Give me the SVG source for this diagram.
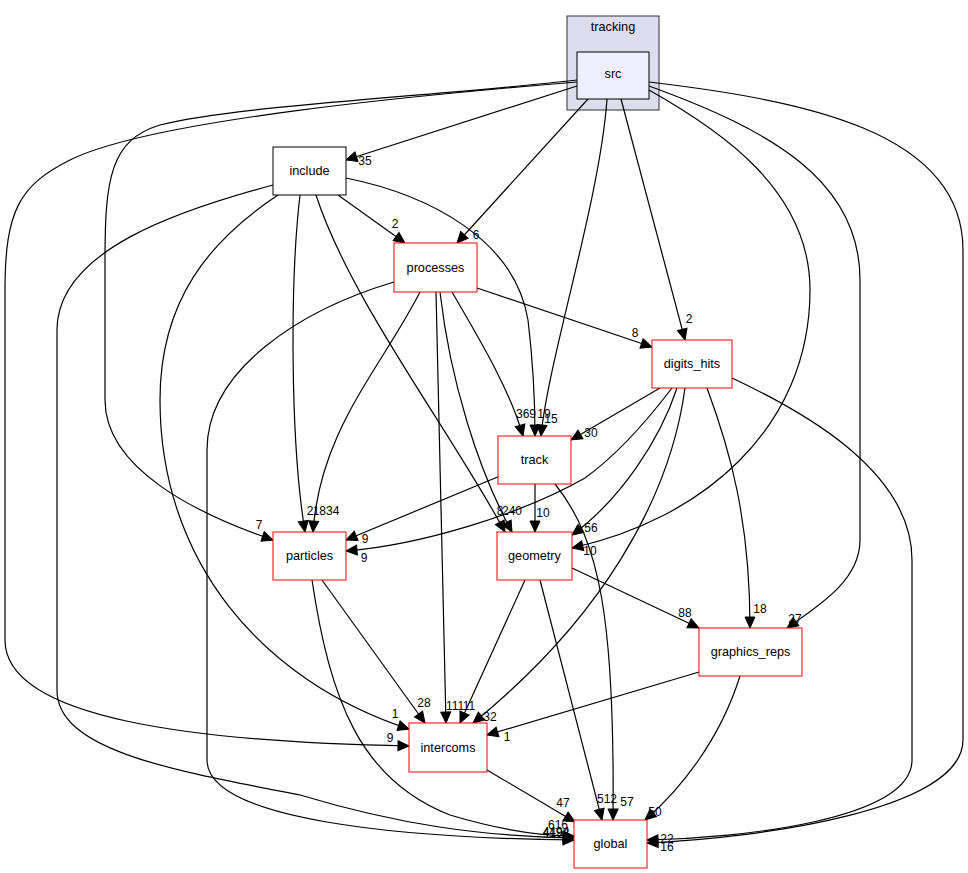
<svg xmlns="http://www.w3.org/2000/svg" width="968" height="873" viewBox="0 0 968 873">
<defs>
<marker id="arr" markerUnits="userSpaceOnUse" markerWidth="14" markerHeight="12" refX="11" refY="5" orient="auto" overflow="visible">
<path d="M0,0 L11,5 L0,10 z" fill="#000" stroke="#000" stroke-width="1"/>
</marker>
<style>
.n rect{fill:#fff;stroke:#ff0000;stroke-width:1}
.n.b rect{stroke:#000}
text{font-family:"Liberation Sans",Arial,sans-serif;fill:#000}
.n text{font-size:12.7px;text-anchor:middle}
.e path{fill:none;stroke:#000;stroke-width:1.2;marker-end:url(#arr)}
.l text{font-size:12px;text-anchor:middle}
</style>
</defs>
<rect x="0" y="0" width="968" height="873" fill="#fff"/>
<g id="cluster_tracking">
<rect x="567" y="16" width="92" height="94" fill="#ddddee" stroke="#333" stroke-width="1"/>
<text x="613" y="31" font-size="12.7" text-anchor="middle">tracking</text>
</g>
<g id="connectors" class="e">
<path d="M577,86 L346,160"/>
<path d="M588,99 L457,243"/>
<path d="M607,99 C600,200 548,360 541,436"/>
<path d="M621,99 L685,340"/>
<path d="M577,80 C450,95 240,105 160,125 C110,140 105,180 105,260 L105,400 C105,470 200,515 273,540"/>
<path d="M577,82 C420,95 150,120 70,160 C20,185 5,210 5,290 L5,640 C5,720 200,742 409,746"/>
<path d="M649,90 C720,130 810,190 810,290 C810,430 700,520 572,548"/>
<path d="M649,86 C770,130 860,180 860,280 L860,540 C860,580 820,605 787,628"/>
<path d="M649,82 C800,100 963,130 963,250 L963,740 C963,810 760,838 647,843"/>
<path d="M338,195 L405,243"/>
<path d="M346,178 C430,195 515,240 528,320 C534,370 535,400 535,436"/>
<path d="M300,195 C290,280 290,440 305,532"/>
<path d="M316,195 C350,300 450,430 505,532"/>
<path d="M278,195 C210,240 160,300 160,400 C160,560 260,680 409,729"/>
<path d="M273,185 C180,210 57,250 57,330 L57,690 C57,750 170,770 300,795 C400,825 480,836 574,838"/>
<path d="M477,288 L652,347"/>
<path d="M452,292 C480,340 510,390 523,436"/>
<path d="M440,292 C450,380 478,470 512,532"/>
<path d="M420,292 C380,370 320,430 313,532"/>
<path d="M436,292 L446,723"/>
<path d="M394,282 C300,310 207,370 207,450 L207,760 C207,820 400,838 574,840"/>
<path d="M660,388 L571,440"/>
<path d="M672,388 C640,430 610,460 585,478 C520,515 420,545 346,551"/>
<path d="M677,388 C660,440 620,500 572,535"/>
<path d="M685,388 C670,500 600,620 473,723"/>
<path d="M707,388 C730,450 750,520 750,628"/>
<path d="M732,378 C800,410 912,470 912,560 L912,760 C912,820 740,838 647,840"/>
<path d="M500,476 L346,540"/>
<path d="M535,484 L535,532"/>
<path d="M555,484 C600,540 615,620 613,820"/>
<path d="M572,568 L699,628"/>
<path d="M525,580 L460,723"/>
<path d="M540,580 L602,820"/>
<path d="M322,580 L425,723"/>
<path d="M312,580 C330,700 360,780 450,815 C500,830 540,836 574,836"/>
<path d="M699,672 L487,735"/>
<path d="M740,676 C720,740 680,790 645,820"/>
<path d="M487,770 L575,822"/>
</g>
<g id="edge_labels" class="l">
<text x="365" y="165">35</text>
<text x="476" y="239">6</text>
<text x="551" y="423">15</text>
<text x="689" y="323">2</text>
<text x="259" y="529">7</text>
<text x="390" y="742">9</text>
<text x="590" y="555">10</text>
<text x="795" y="623">27</text>
<text x="667" y="843">22</text>
<text x="667" y="851">16</text>
<text x="395" y="228">2</text>
<text x="544" y="418">19</text>
<text x="310" y="515">2</text>
<text x="500" y="515">8</text>
<text x="395" y="718">1</text>
<text x="635" y="337">8</text>
<text x="526" y="418">369</text>
<text x="512" y="515">240</text>
<text x="326" y="515">1834</text>
<text x="455" y="710">111</text>
<text x="591" y="437">30</text>
<text x="364" y="562">9</text>
<text x="591" y="532">56</text>
<text x="490" y="721">32</text>
<text x="760" y="613">18</text>
<text x="365" y="543">9</text>
<text x="543" y="517">10</text>
<text x="607" y="803">512</text>
<text x="627" y="806">57</text>
<text x="685" y="617">88</text>
<text x="469" y="710">11</text>
<text x="424" y="707">28</text>
<text x="507" y="741">1</text>
<text x="655" y="816">50</text>
<text x="563" y="807">47</text>
<text x="558" y="829">616</text>
<text x="556" y="836">4494</text>
<text x="556" y="837">4198</text>
</g>
<g id="src" class="n b"><rect x="577" y="52" width="72" height="47" style="fill:#eeeeff"/><text x="613" y="78">src</text></g>
<g id="include" class="n b"><rect x="273" y="147" width="73" height="48"/><text x="309.5" y="175">include</text></g>
<g id="processes" class="n"><rect x="394" y="243" width="83" height="49"/><text x="435.5" y="272">processes</text></g>
<g id="digits_hits" class="n"><rect x="652" y="340" width="80" height="48"/><text x="692" y="368">digits_hits</text></g>
<g id="track" class="n"><rect x="498" y="436" width="73" height="48"/><text x="534.5" y="464">track</text></g>
<g id="geometry" class="n"><rect x="497" y="532" width="75" height="48"/><text x="534.5" y="560">geometry</text></g>
<g id="particles" class="n"><rect x="273" y="532" width="73" height="48"/><text x="309.5" y="560">particles</text></g>
<g id="graphics_reps" class="n"><rect x="699" y="628" width="103" height="48"/><text x="750.5" y="656">graphics_reps</text></g>
<g id="intercoms" class="n"><rect x="409" y="723" width="78" height="49"/><text x="448" y="752">intercoms</text></g>
<g id="global" class="n"><rect x="574" y="820" width="73" height="48"/><text x="610.5" y="848">global</text></g>
</svg>
